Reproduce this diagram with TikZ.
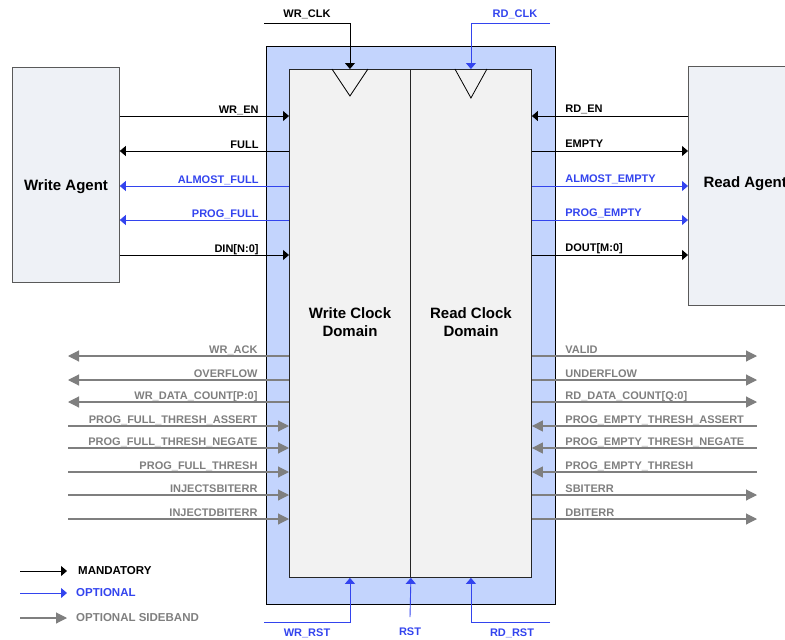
\documentclass[tikz,border=0pt]{standalone}
\usepackage{fontspec}
\setmainfont{Liberation Sans}
\usetikzlibrary{arrows.meta,positioning}
\definecolor{SigBlue}{HTML}{3344EE}
\definecolor{SideGray}{HTML}{7F7F7F}
\definecolor{FifoBlue}{HTML}{C3D4FD}
\definecolor{DomainBg}{HTML}{F2F2F2}
\definecolor{AgentBg}{HTML}{EEF1F6}

\begin{document}
\begin{tikzpicture}[x=1pt, y=-1pt,
  frame/.style={draw=black, fill=FifoBlue, line width=1.2pt, inner sep=0pt, anchor=north west},
  clkdomain/.style={draw=black!85, fill=DomainBg, line width=0.9pt, inner sep=0pt, anchor=north west,
                 minimum width=121pt, minimum height=508pt},
  agent/.style={draw=black!65, fill=AgentBg, line width=0.8pt, inner sep=0pt, anchor=north west},
  title/.style={font=\fontsize{15}{18}\selectfont\bfseries, align=center},
  lbl/.style={font=\fontsize{11}{12}\selectfont\bfseries, inner sep=0pt},
  olbl/.style={lbl, text=SigBlue},
  slbl/.style={lbl, text=SideGray},
  mand/.style={draw=black, line width=0.9pt, >={Triangle[length=6pt,width=10pt]}},
  opt/.style={draw=SigBlue, line width=0.9pt, >={Triangle[length=6pt,width=10pt]}},
  sb/.style={draw=SideGray, line width=1.1pt, >={Triangle[length=11pt,width=11pt]}}]
  \useasboundingbox (0,0) rectangle (785,640);

  % FIFO and agents
  \node[frame, minimum width=289pt, minimum height=558pt] (fifo) at (266,46) {};
  \node[clkdomain] (wdom) at (289,69) {};
  \node[clkdomain] (rdom) at (410,69) {};
  \node[agent, minimum width=107pt, minimum height=215pt] (wagent) at (12,67) {};
  \node[agent, minimum width=120pt, minimum height=239pt] (ragent) at (688,66) {};
  \node[title] (wtitle) at (350,322) {Write Clock\\Domain};
  \node[title] (rtitle) at (471,322) {Read Clock\\Domain};
  \node[title] (watitle) at (66,187) {Write Agent};
  \node[title, anchor=west] (ratitle) at (700,184) {Read Agent};

  % clock inputs
  \draw[line width=0.8pt] ([xshift=-18pt]wdom.north) -- ++(18,27) -- ++(18,-27);
  \draw[line width=0.8pt] ([xshift=-16pt]rdom.north) -- ++(16,29) -- ++(16,-29);
  \coordinate (wclk) at (264,23);
  \coordinate (rclk) at (550,23);
  \draw[mand,->] (wclk) -| (wdom.north);
  \draw[opt,->] (rclk) -| (rdom.north);
  \node[lbl, anchor=base] (wclkl) at (307,17.5) {WR\_CLK};
  \node[olbl, anchor=base] (rclkl) at (515,17.5) {RD\_CLK};

  % resets
  \coordinate (wrst) at (264,622);
  \coordinate (rst) at (410,617);
  \coordinate (rrst) at (550,622);
  \draw[opt,->] (wrst) -| (wdom.south);
  \draw[opt,->] (rst) -- (wdom.south east);
  \draw[opt,->] (rrst) -| (rdom.south);
  \node[olbl, anchor=base] (wrstl) at (307,636.5) {WR\_RST};
  \node[olbl, anchor=base] (rstl) at (410,635) {RST};
  \node[olbl, anchor=base] (rrstl) at (512,636.5) {RD\_RST};

  % write side
  \draw[mand,->] (wagent.east |- 0,116) -- (wdom.west |- 0,116)
    node[lbl, anchor=base east, xshift=-30pt, yshift=3pt] (wenl) {WR\_EN};
  \draw[mand,<-] (wagent.east |- 0,151) -- (wdom.west |- 0,151)
    node[lbl, anchor=base east, xshift=-30pt, yshift=3pt] (fulll) {FULL};
  \draw[opt,<-] (wagent.east |- 0,186) -- (wdom.west |- 0,186)
    node[olbl, anchor=base east, xshift=-30pt, yshift=3pt] (afulll) {ALMOST\_FULL};
  \draw[opt,<-] (wagent.east |- 0,220) -- (wdom.west |- 0,220)
    node[olbl, anchor=base east, xshift=-30pt, yshift=3pt] (pfulll) {PROG\_FULL};
  \draw[mand,->] (wagent.east |- 0,255) -- (wdom.west |- 0,255)
    node[lbl, anchor=base east, xshift=-30pt, yshift=3pt] (dinl) {DIN[N:0]};

  % read side
  \draw[mand,<-] (rdom.east |- 0,116) -- (ragent.west |- 0,116)
    node[lbl, anchor=base west, pos=0, xshift=33pt, yshift=3.5pt] (renl) {RD\_EN};
  \draw[mand,->] (rdom.east |- 0,151) -- (ragent.west |- 0,151)
    node[lbl, anchor=base west, pos=0, xshift=33pt, yshift=3.5pt] (emptyl) {EMPTY};
  \draw[opt,->] (rdom.east |- 0,186) -- (ragent.west |- 0,186)
    node[olbl, anchor=base west, pos=0, xshift=33pt, yshift=3.5pt] (aemptyl) {ALMOST\_EMPTY};
  \draw[opt,->] (rdom.east |- 0,220) -- (ragent.west |- 0,220)
    node[olbl, anchor=base west, pos=0, xshift=33pt, yshift=3.5pt] (pemptyl) {PROG\_EMPTY};
  \draw[mand,->] (rdom.east |- 0,255) -- (ragent.west |- 0,255)
    node[lbl, anchor=base west, pos=0, xshift=33pt, yshift=3.5pt] (doutl) {DOUT[M:0]};

  % sideband
  \coordinate (sbl) at (68,0);
  \coordinate (sbr) at (757,0);
  \foreach \y/\t in {356/WR\_ACK, 380/OVERFLOW, 402/WR\_DATA\_COUNT[P:0]}
    \draw[sb,<-] (sbl |- 0,\y) -- (wdom.west |- 0,\y)
      node[slbl, anchor=base east, xshift=-31pt, yshift=3pt] (wsb\y) {\t};
  \foreach \y/\t in {426/PROG\_FULL\_THRESH\_ASSERT, 448/PROG\_FULL\_THRESH\_NEGATE,
                     472/PROG\_FULL\_THRESH, 495/INJECTSBITERR, 519/INJECTDBITERR}
    \draw[sb,->] (sbl |- 0,\y) -- (wdom.west |- 0,\y)
      node[slbl, anchor=base east, xshift=-31pt, yshift=3pt] (wsb\y) {\t};
  \foreach \y/\t in {356/VALID, 380/UNDERFLOW, 402/RD\_DATA\_COUNT[Q:0], 495/SBITERR, 519/DBITERR}
    \draw[sb,->] (rdom.east |- 0,\y) -- (sbr |- 0,\y)
      node[slbl, anchor=base west, pos=0, xshift=33pt, yshift=3pt] (rsb\y) {\t};
  \foreach \y/\t in {426/PROG\_EMPTY\_THRESH\_ASSERT, 448/PROG\_EMPTY\_THRESH\_NEGATE,
                     472/PROG\_EMPTY\_THRESH}
    \draw[sb,<-] (rdom.east |- 0,\y) -- (sbr |- 0,\y)
      node[slbl, anchor=base west, pos=0, xshift=33pt, yshift=3pt] (rsb\y) {\t};

  % legend
  \node[lbl, font=\fontsize{11.5}{12}\selectfont\bfseries, anchor=west] (lgm) at (78,571) {MANDATORY};
  \node[olbl, font=\fontsize{11.5}{12}\selectfont\bfseries, anchor=west] (lgo) at (76,593) {OPTIONAL};
  \node[slbl, font=\fontsize{11.5}{12}\selectfont\bfseries, anchor=west] (lgs) at (76,618) {OPTIONAL SIDEBAND};
  \coordinate (lgm0) at (20,571);
  \coordinate (lgo0) at (20,593);
  \coordinate (lgs0) at (20,618);
  \draw[mand,->] (lgm0) -- ([xshift=-11pt]lgm.west);
  \draw[opt,->] (lgo0) -- ([xshift=-9pt]lgo.west);
  \draw[sb,->] (lgs0) -- ([xshift=-9pt]lgs.west);
\end{tikzpicture}
\end{document}
